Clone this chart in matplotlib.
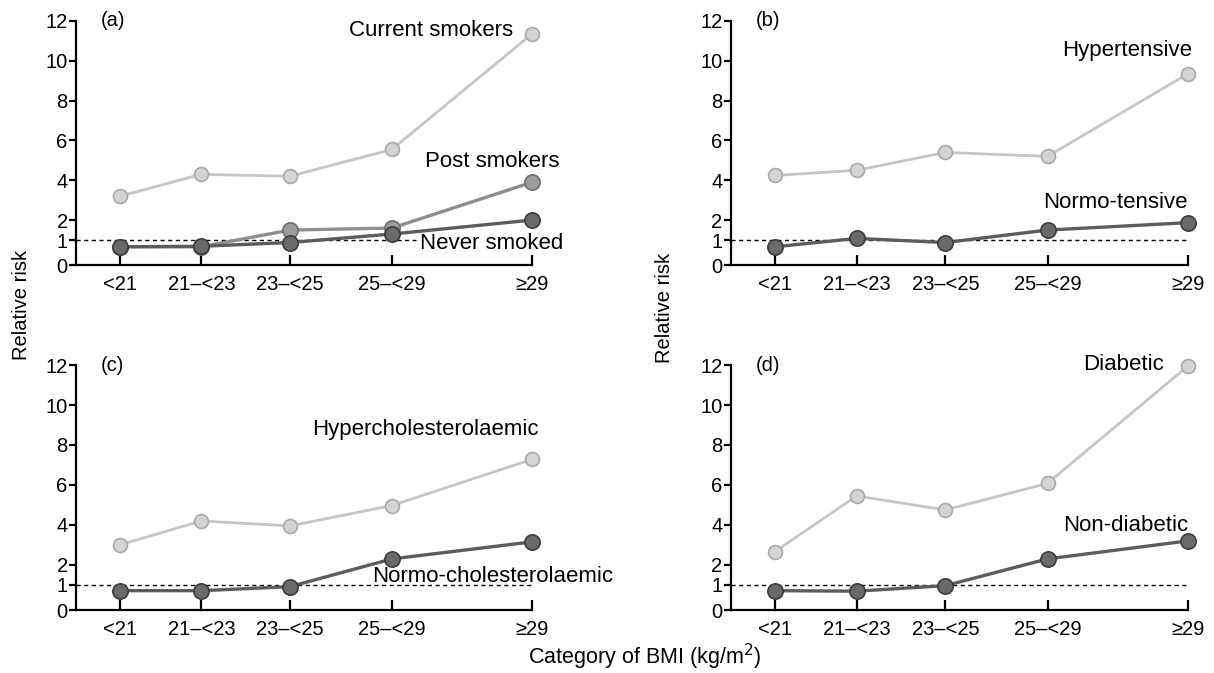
import numpy as np
import matplotlib
matplotlib.use('Agg')
import matplotlib.pyplot as plt

plt.rcParams['font.family'] = ['Liberation Sans', 'DejaVu Sans']

categories = ['<21', '21\u2013<23', '23\u2013<25', '25\u2013<29', '\u226529']
yticks = [0, 1, 2, 4, 6, 8, 10, 12]

# (a) smoking
current_smokers = [3.2, 4.3, 4.2, 5.55, 11.35]
post_smokers = [0.73, 0.73, 1.5, 1.6, 3.9]
never_smoked = [0.73, 0.75, 0.9, 1.3, 2.0]
# (b) blood pressure
hypertensive = [4.24, 4.5, 5.4, 5.2, 9.35]
normotensive = [0.73, 1.08, 0.9, 1.5, 1.87]
# (c) cholesterol
hyperchol = [3.0, 4.2, 3.95, 4.97, 7.28]
normochol = [0.77, 0.77, 0.93, 2.3, 3.15]
# (d) diabetes
diabetic = [2.67, 5.45, 4.75, 6.08, 11.95]
nondiabetic = [0.77, 0.75, 0.97, 2.3, 3.2]

# category positions along the axis (unevenly spaced in the original)
xpos = [0, 0.79, 1.65, 2.64, 4.0]

# the original axis gives a little more room to 0-2
scale_in = [0, 1, 2, 12]
scale_out = [0, 1.23, 2.21, 12]


def fwd(y):
    y = np.asarray(y, dtype=float)
    return np.where((y < 0) | (y > 12), y, np.interp(y, scale_in, scale_out))


def inv(y):
    y = np.asarray(y, dtype=float)
    return np.where((y < 0) | (y > 12), y, np.interp(y, scale_out, scale_in))


LIGHT = dict(color='#c6c6c6', lw=2.0, mfc='#d4d4d4', mec='#a9a9a9')
MID = dict(color='#8e8e8e', lw=2.4, mfc='#9c9c9c', mec='#6f6f6f')
DARK = dict(color='#5c5c5c', lw=2.4, mfc='#6a6a6a', mec='#3d3d3d')

fig = plt.figure(figsize=(12.14, 6.73), dpi=100)
rects = [
    [0.0626, 0.6062, 0.3756, 0.3626],
    [0.6021, 0.6062, 0.3764, 0.3626],
    [0.0626, 0.0936, 0.3756, 0.3640],
    [0.6021, 0.0936, 0.3764, 0.3640],
]
axes = [fig.add_axes(r) for r in rects]


def series(ax, vals, st, ms):
    ax.plot(xpos, vals, color=st['color'], lw=st['lw'], marker='o', ms=ms,
            mfc=st['mfc'], mec=st['mec'], mew=1.2, clip_on=False, zorder=3)


def style(ax, letter, dash_end=4.0):
    ax.set_yscale('function', functions=(fwd, inv))
    ax.set_xlim(-0.427, 4.0)
    ax.set_ylim(0, 12)
    ax.set_yticks(yticks)
    ax.set_yticklabels([str(t) for t in yticks])
    ax.set_xticks(xpos)
    ax.set_xticklabels(categories)
    ax.yaxis.set_minor_locator(matplotlib.ticker.NullLocator())
    for s in ['top', 'right']:
        ax.spines[s].set_visible(False)
    for s in ['left', 'bottom']:
        ax.spines[s].set_linewidth(1.6)
    ax.tick_params(axis='y', direction='out', length=5, width=1.6, pad=1, labelsize=14.5)
    ax.tick_params(axis='x', direction='in', length=7, width=1.6, pad=7, labelsize=14.5)
    ax.hlines(1, -0.427, dash_end, colors='black', linestyles=(0, (3, 2.5)), lw=1.0, zorder=2)
    ax.text(0.055, 12, letter, transform=ax.get_yaxis_transform(), fontsize=14.5,
            va='center', ha='left')


ax = axes[0]
series(ax, current_smokers, LIGHT, 10)
series(ax, post_smokers, MID, 11)
series(ax, never_smoked, DARK, 11)
style(ax, '(a)', dash_end=2.87)
ax.text(3.82, 11.5, 'Current smokers', fontsize=16, ha='right', va='center')
ax.text(4.27, 4.95, 'Post smokers', fontsize=16, ha='right', va='center')
ax.text(4.3, 0.85, 'Never smoked', fontsize=16, ha='right', va='center')

ax = axes[1]
series(ax, hypertensive, LIGHT, 10)
series(ax, normotensive, DARK, 11)
style(ax, '(b)')
ax.text(4.04, 10.5, 'Hypertensive', fontsize=16, ha='right', va='center')
ax.text(4.0, 2.9, 'Normo-tensive', fontsize=16, ha='right', va='center')

ax = axes[2]
series(ax, hyperchol, LIGHT, 10)
series(ax, normochol, DARK, 11)
style(ax, '(c)')
ax.text(4.07, 8.75, 'Hypercholesterolaemic', fontsize=16, ha='right', va='center')
ax.text(2.45, 1.4, 'Normo-cholesterolaemic', fontsize=16, ha='left', va='center')

ax = axes[3]
series(ax, diabetic, LIGHT, 10)
series(ax, nondiabetic, DARK, 11)
style(ax, '(d)')
ax.text(3.77, 12.05, 'Diabetic', fontsize=16, ha='right', va='center')
ax.text(4.0, 3.95, 'Non-diabetic', fontsize=16, ha='right', va='center')

fig.text(22 / 1214, 1 - 305 / 673, 'Relative risk', rotation=90, fontsize=14.5,
         ha='center', va='center')
fig.text(665 / 1214, 1 - 308 / 673, 'Relative risk', rotation=90, fontsize=14.5,
         ha='center', va='center')
fig.text(645 / 1214, 1 - 657 / 673, 'Category of BMI (kg/m$^2$)', fontsize=15.5,
         ha='center', va='center')

fig.savefig('out.png', dpi=100)
